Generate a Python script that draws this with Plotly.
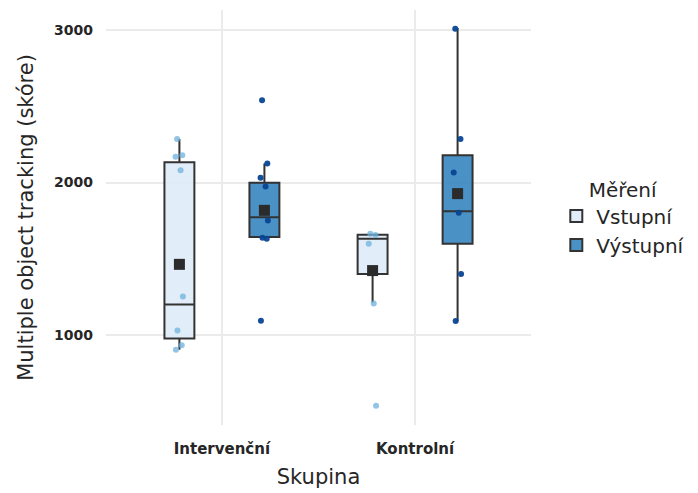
import plotly.graph_objects as go

# Groups on the x axis and the two measurement occasions
groups = ["Intervenční", "Kontrolní"]
occasions = ["Vstupní", "Výstupní"]

# Box statistics per occasion, one value per group
q1 = {"Vstupní": [974, 1399], "Výstupní": [1642, 1597]}
median = {"Vstupní": [1198, 1630], "Výstupní": [1771, 1811]}
q3 = {"Vstupní": [2134, 1657], "Výstupní": [1998, 2180]}
lower_whisker = {"Vstupní": [901, 1211], "Výstupní": [1642, 1088]}
upper_whisker = {"Vstupní": [2286, 1657], "Výstupní": [2125, 3016]}
means = {"Vstupní": [1462, 1421], "Výstupní": [1817, 1927]}

# Individual scores per group and occasion
scores = {
    ("Intervenční", "Vstupní"): [2286, 2180, 2170, 2081, 1250, 1028, 930, 900],
    ("Intervenční", "Výstupní"): [2541, 2125, 2031, 1974, 1751, 1637, 1630, 1092],
    ("Kontrolní", "Vstupní"): [1663, 1655, 1597, 1205, 533],
    ("Kontrolní", "Výstupní"): [3010, 2286, 2066, 1802, 1399, 1090],
}

tick_vals = [1000, 2000, 3000]
y_range = [406, 3134]

# Styling
dodge = {"Vstupní": -0.22, "Výstupní": 0.22}
box_fill = {"Vstupní": "rgba(222,235,247,0.9)", "Výstupní": "rgba(49,130,189,0.88)"}
point_color = {"Vstupní": "rgba(110,178,220,0.75)", "Výstupní": "rgba(8,69,148,0.95)"}
jitter = [-0.012, 0.015, -0.02, 0.006, 0.018, -0.01, 0.012, -0.018]
font_family = "DejaVu Sans"
ink = "#262626"

fig = go.Figure()
centers = {g: i + 1 for i, g in enumerate(groups)}

# Jittered raw scores sit underneath the boxes
for (g, occ), vals in scores.items():
    xs = [centers[g] + dodge[occ] + jitter[i % len(jitter)] for i in range(len(vals))]
    fig.add_trace(go.Scatter(
        x=xs, y=vals, mode="markers", showlegend=False, hoverinfo="skip",
        marker=dict(size=6, color=point_color[occ], line=dict(width=0)),
    ))

# Boxes from precomputed statistics
for occ in occasions:
    fig.add_trace(go.Box(
        name=occ,
        x=[centers[g] + dodge[occ] for g in groups],
        q1=q1[occ], median=median[occ], q3=q3[occ],
        lowerfence=lower_whisker[occ], upperfence=upper_whisker[occ],
        width=0.155, whiskerwidth=0, boxpoints=False,
        fillcolor=box_fill[occ], line=dict(color="#333333", width=2),
    ))

# Group means as dark squares
for occ in occasions:
    fig.add_trace(go.Scatter(
        x=[centers[g] + dodge[occ] for g in groups], y=means[occ],
        mode="markers", showlegend=False, hoverinfo="skip",
        marker=dict(symbol="square", size=11, color="#2b2b2b"),
    ))

fig.update_layout(
    width=698, height=493,
    margin=dict(l=106, r=167, t=10, b=68, autoexpand=False),
    paper_bgcolor="white", plot_bgcolor="white",
    boxmode="overlay",
    font=dict(family=font_family, color=ink),
    legend=dict(
        title=dict(text="Měření", font=dict(size=20, color=ink), side="top center"),
        font=dict(size=20, color=ink),
        xref="container", x=0.797, xanchor="left", y=0.5, yanchor="middle",
        tracegroupgap=0, itemwidth=30,
    ),
)
fig.update_xaxes(
    range=[0.4, 2.6], tickvals=[1, 2], ticktext=groups,
    showgrid=True, gridcolor="#EBEBEB", gridwidth=2, zeroline=False,
    showline=False, ticks="", ticklabelstandoff=13,
    tickfont=dict(size=15, color=ink, family=font_family, weight="bold"),
    title=dict(text="Skupina", font=dict(size=21, color=ink), standoff=12),
)
fig.update_yaxes(
    range=y_range, tickvals=tick_vals, ticktext=[str(v) for v in tick_vals],
    showgrid=True, gridcolor="#EBEBEB", gridwidth=2, zeroline=False,
    showline=False, ticks="", ticklabelstandoff=12,
    tickfont=dict(size=14, color=ink, family=font_family, weight="bold"),
    title=dict(text="Multiple object tracking (skóre)", font=dict(size=21, color=ink), standoff=14),
)

fig.write_html("out.html")
